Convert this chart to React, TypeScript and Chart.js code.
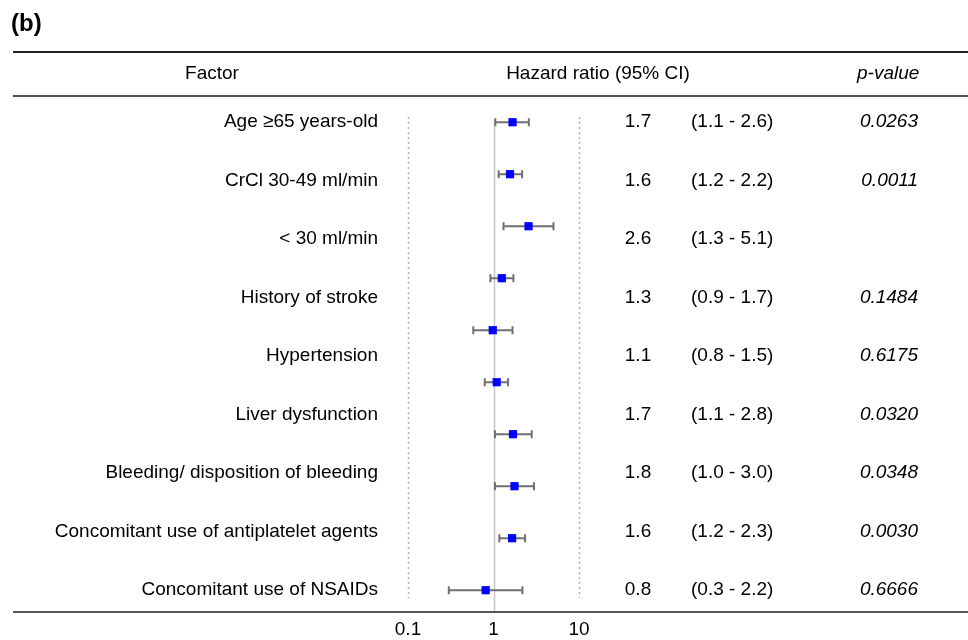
import React, { useEffect, useRef } from 'react';
import { Chart, registerables } from 'chart.js';

Chart.register(...registerables);

// Table rows
const factors = [
  'Age \u226565 years-old',
  'CrCl 30-49 ml/min',
  '< 30 ml/min',
  'History of stroke',
  'Hypertension',
  'Liver dysfunction',
  'Bleeding/ disposition of bleeding',
  'Concomitant use of antiplatelet agents',
  'Concomitant use of NSAIDs',
];
const hrText = ['1.7', '1.6', '2.6', '1.3', '1.1', '1.7', '1.8', '1.6', '0.8'];
const ciText = [
  '(1.1 - 2.6)', '(1.2 - 2.2)', '(1.3 - 5.1)', '(0.9 - 1.7)', '(0.8 - 1.5)',
  '(1.1 - 2.8)', '(1.0 - 3.0)', '(1.2 - 2.3)', '(0.3 - 2.2)',
];
const pValues = ['0.0263', '0.0011', '', '0.1484', '0.6175', '0.0320', '0.0348', '0.0030', '0.6666'];

// Plotted markers (as drawn in the figure)
const estimates = [1.67, 1.56, 2.57, 1.25, 0.98, 1.09, 1.69, 1.76, 1.65, 0.81];
const lowers = [1.05, 1.15, 1.31, 0.92, 0.58, 0.79, 1.04, 1.04, 1.17, 0.30];
const uppers = [2.59, 2.16, 5.03, 1.71, 1.67, 1.48, 2.80, 2.98, 2.34, 2.18];

// Axis ticks
const tickValues = [0.1, 1, 10];
const tickLabels = ['0.1', '1', '10'];

const FONT = '"Liberation Sans", Arial, sans-serif';

const forestPlugin = {
  id: 'forest',
  beforeDatasetsDraw(chart: any) {
    const { ctx, chartArea } = chart;
    const xs = chart.scales.x;
    const ys = chart.scales.y;
    ctx.save();
    // reference lines
    tickValues.forEach((v) => {
      const px = Math.round(xs.getPixelForValue(v)) + 0.5;
      ctx.beginPath();
      if (v === 1) {
        ctx.setLineDash([]);
        ctx.strokeStyle = '#c4c4c4';
        ctx.lineWidth = 1.5;
        ctx.moveTo(px, chartArea.top + 3);
        ctx.lineTo(px, 611);
      } else {
        ctx.setLineDash([2, 3]);
        ctx.strokeStyle = '#b0b0b0';
        ctx.lineWidth = 1.5;
        ctx.moveTo(px, chartArea.top);
        ctx.lineTo(px, chartArea.bottom);
      }
      ctx.stroke();
    });
    ctx.setLineDash([]);
    // error bars
    ctx.strokeStyle = '#707070';
    ctx.lineWidth = 2;
    estimates.forEach((_, i) => {
      const y = ys.getPixelForValue(i);
      const x1 = xs.getPixelForValue(lowers[i]);
      const x2 = xs.getPixelForValue(uppers[i]);
      ctx.beginPath();
      ctx.moveTo(x1, y);
      ctx.lineTo(x2, y);
      ctx.moveTo(x1, y - 4);
      ctx.lineTo(x1, y + 4);
      ctx.moveTo(x2, y - 4);
      ctx.lineTo(x2, y + 4);
      ctx.stroke();
    });
    ctx.restore();
  },
  afterDraw(chart: any) {
    const { ctx } = chart;
    const xs = chart.scales.x;
    const ys = chart.scales.y;
    ctx.save();
    // rules
    ctx.strokeStyle = '#222';
    ctx.lineWidth = 2;
    ctx.beginPath();
    ctx.moveTo(13, 52);
    ctx.lineTo(968, 52);
    ctx.stroke();
    ctx.strokeStyle = '#555';
    ctx.beginPath();
    ctx.moveTo(13, 96);
    ctx.lineTo(968, 96);
    ctx.moveTo(13, 612);
    ctx.lineTo(968, 612);
    ctx.stroke();

    ctx.fillStyle = '#000';
    ctx.textBaseline = 'middle';
    // title
    ctx.font = `bold 24px ${FONT}`;
    ctx.textAlign = 'left';
    ctx.fillText('(b)', 11, 24);
    // header
    ctx.font = `19px ${FONT}`;
    ctx.textAlign = 'center';
    ctx.fillText('Factor', 212, 74);
    ctx.fillText('Hazard ratio (95% CI)', 598, 74);
    ctx.font = `italic 19px ${FONT}`;
    ctx.textAlign = 'left';
    ctx.fillText('p-value', 857, 74);

    // rows
    const step = (estimates.length - 1) / (factors.length - 1);
    factors.forEach((f, i) => {
      const y = ys.getPixelForValue(i * step);
      ctx.font = `19px ${FONT}`;
      ctx.textAlign = 'right';
      ctx.fillText(f, 378, y);
      ctx.textAlign = 'center';
      ctx.fillText(hrText[i], 638, y);
      ctx.textAlign = 'left';
      ctx.fillText(ciText[i], 691, y);
      if (pValues[i]) {
        ctx.font = `italic 19px ${FONT}`;
        ctx.textAlign = 'right';
        ctx.fillText(pValues[i], 918, y);
      }
    });

    // x tick labels
    ctx.font = `19px ${FONT}`;
    ctx.textAlign = 'center';
    tickValues.forEach((v, i) => {
      ctx.fillText(tickLabels[i], xs.getPixelForValue(v), 630);
    });
    ctx.restore();
  },
};

export default function App() {
  const ref = useRef<HTMLCanvasElement>(null);
  useEffect(() => {
    const chart = new Chart(ref.current as HTMLCanvasElement, {
      type: 'scatter',
      data: {
        datasets: [
          {
            data: estimates.map((v, i) => ({ x: v, y: i })),
            pointStyle: 'rect',
            pointRadius: 5.8,
            backgroundColor: '#0000ff',
            borderColor: '#0000ff',
            borderWidth: 0,
          },
        ],
      },
      options: {
        animation: false,
        responsive: false,
        events: [],
        layout: { padding: { left: 408, right: 389, top: 117, bottom: 42 } },
        plugins: { legend: { display: false }, tooltip: { enabled: false } },
        scales: {
          x: { type: 'logarithmic', min: 0.1, max: 10, display: false },
          y: { type: 'linear', min: -0.1, max: 9.15, reverse: true, display: false },
        },
      },
      plugins: [forestPlugin],
    });
    return () => chart.destroy();
  }, []);
  return (
    <div style={{ position: 'fixed', left: 0, top: 0, width: 968, height: 640, background: '#fff' }}>
      <canvas ref={ref} width={968} height={640} style={{ display: 'block', width: 968, height: 640 }} />
    </div>
  );
}
